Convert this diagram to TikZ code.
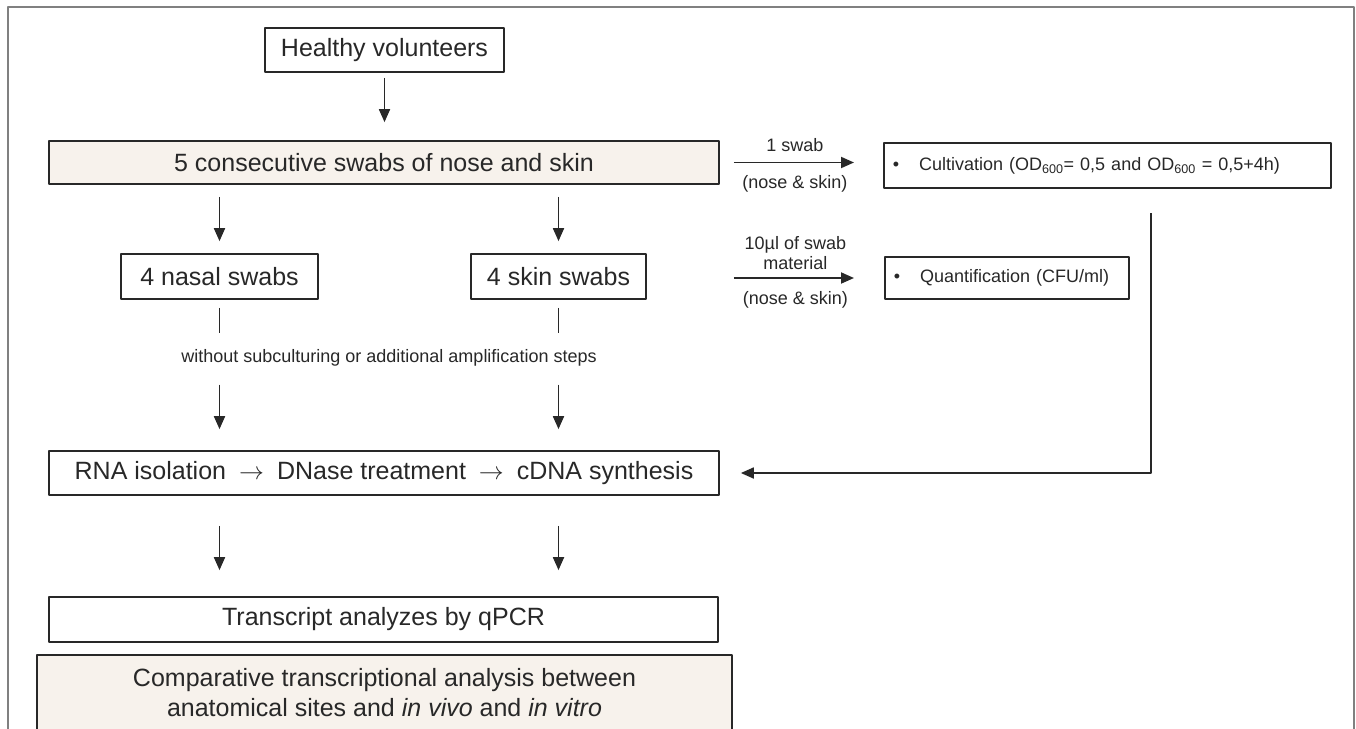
\documentclass[tikz,border=0pt]{standalone}
\usepackage{fontspec}
\setmainfont{Liberation Sans}
\usetikzlibrary{arrows.meta}
\definecolor{swabbeige}{RGB}{247,242,236}
\definecolor{framegray}{RGB}{128,128,128}
\definecolor{inkgray}{RGB}{40,40,40}

\begin{document}
\begin{tikzpicture}[x=1pt,y=-1pt,line join=round,>={Triangle[length=13pt,width=11pt]}]
	\tikzset{every node/.style={font=\fontsize{25}{30}\selectfont, inner sep=0pt, text=inkgray}}
	\tikzset{flowbox/.style={draw=inkgray, line width=1.7pt, minimum height=44pt, align=center}}
	\tikzset{beigebox/.style={flowbox, fill=swabbeige}}
	\tikzset{smalltxt/.style={font=\fontsize{18}{20}\selectfont, align=center}}
	\tikzset{flow/.style={->, draw=inkgray, line width=1.8pt}}
	\newcommand{\thento}{\hspace{13pt}$\rightarrow$\hspace{13pt}}
	\useasboundingbox (0,0) rectangle (1356,728);
	\clip (0,0) rectangle (1356,728);
	\fill[white] (0,0) rectangle (1356,728);
	\draw[framegray, line width=1.5pt] (8,740) -- (8,7) -- (1354,7) -- (1354,740);
	% main column
	\node[flowbox, minimum width=239pt] (hv) at (384.5,50) {Healthy volunteers};
	\node[beigebox, minimum width=670pt, minimum height=43pt] (swabs) at (384,162.5) {5 consecutive swabs of nose and skin};
	\node[flowbox, minimum width=197pt, minimum height=45pt] (nasal) at (219.5,276.5) {4 nasal swabs};
	\node[flowbox, minimum width=175pt, minimum height=45pt] (skin) at (558.5,276.5) {4 skin swabs};
	\node[smalltxt] (note) at (389,358) {without subculturing or additional amplification steps};
	\node[flowbox, minimum width=670pt] (rna) at (384,473) {RNA isolation\thento DNase treatment\thento cDNA synthesis};
	\node[flowbox, minimum width=669pt, minimum height=45pt] (qpcr) at (383.5,619.5) {Transcript analyzes by qPCR};
	\node[beigebox, minimum width=695pt, anchor=north, inner ysep=14pt] (compare) at (384.5,654) {Comparative transcriptional analysis between\\anatomical sites and \textit{in vivo} and \textit{in vitro}};
	% side boxes
	\node[flowbox, smalltxt, anchor=west, minimum height=45pt, text width=429pt, align=left, inner xsep=9pt] (cult) at (883,165.5) {•\hspace{20pt}Cultivation (OD\textsubscript{600}= 0,5 and OD\textsubscript{600} = 0,5+4h)};
	\node[flowbox, smalltxt, anchor=west, minimum height=42pt, text width=226pt, align=left, inner xsep=9pt] (quant) at (884,278) {•\hspace{20pt}Quantification (CFU/ml)};
	\coordinate (fb) at (1151,213);
	% arrows
	\draw[flow, shorten <=5pt, shorten >=18pt] (hv.south) -- (hv.south |- swabs.north);
	\foreach \col in {nasal,skin}{
		\draw[flow, shorten <=12pt, shorten >=12pt] (swabs.south -| \col) -- (\col.north);
		\draw[flow, -, shorten <=8pt, shorten >=16pt] (\col.south) -- (\col.south |- note.north);
		\draw[flow, shorten <=18pt, shorten >=21pt] (\col.south |- note.south) -- (\col.south |- rna.north);
		\draw[flow, shorten <=30pt, shorten >=26pt] (rna.south -| \col) -- (\col.south |- qpcr.north);
	}
	\draw[flow, shorten <=14pt, shorten >=29pt] (swabs.east) -- (swabs.east -| cult.west)
		node[smalltxt, pos=0.46, above=10pt] {1 swab}
		node[smalltxt, pos=0.46, below=12pt] {(nose \& skin)};
	\draw[flow, shorten <=14pt, shorten >=30pt] (quant.west -| swabs.east) -- (quant.west)
		node[smalltxt, pos=0.46, above=7pt] {10µl of swab\\material}
		node[smalltxt, pos=0.46, below=13pt] {(nose \& skin)};
	\draw[flow, shorten >=21pt] (fb) |- (rna.east);
\end{tikzpicture}
\end{document}
